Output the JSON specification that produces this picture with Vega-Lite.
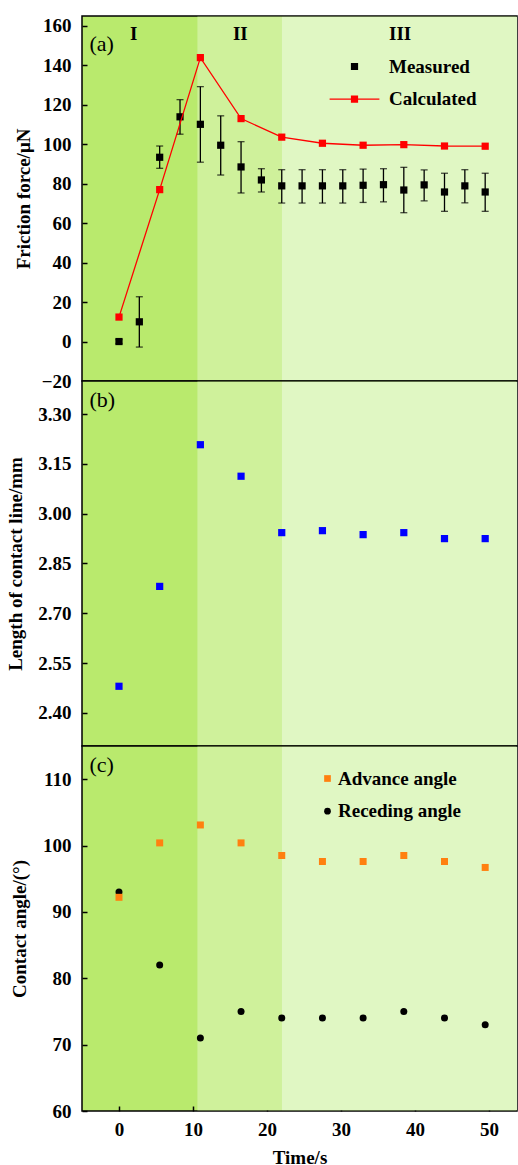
{
  "$schema": "https://vega.github.io/schema/vega-lite/v6.json",
  "background": "white",
  "padding": {"left": 6, "top": 15, "right": 0, "bottom": 0},
  "spacing": 0,
  "bounds": "flush",
  "datasets": {
    "bands": [
      {"region": "I", "start": -5, "end": 10.6, "tl": 2.0},
      {"region": "II", "start": 10.6, "end": 22, "tl": 16.4},
      {"region": "III", "start": 22, "end": 53.8, "tl": 38}
    ],
    "measured": [
      {"t": 0, "f": 0, "lo": -1, "hi": 1},
      {"t": 2.75, "f": 10, "lo": -2.8, "hi": 22.7},
      {"t": 5.5, "f": 93.4, "lo": 87.8, "hi": 99.1},
      {"t": 8.25, "f": 113.9, "lo": 105.1, "hi": 122.6},
      {"t": 11, "f": 110.1, "lo": 90.9, "hi": 129.2},
      {"t": 13.75, "f": 99.5, "lo": 84.4, "hi": 114.4},
      {"t": 16.5, "f": 88.5, "lo": 75.3, "hi": 101.3},
      {"t": 19.25, "f": 81.9, "lo": 75.8, "hi": 87.6},
      {"t": 22, "f": 78.9, "lo": 70.2, "hi": 87.1},
      {"t": 24.75, "f": 78.9, "lo": 70.2, "hi": 87.1},
      {"t": 27.5, "f": 78.9, "lo": 70.2, "hi": 87.1},
      {"t": 30.25, "f": 78.9, "lo": 70.2, "hi": 87.1},
      {"t": 33, "f": 79.2, "lo": 70.5, "hi": 87.4},
      {"t": 35.75, "f": 79.5, "lo": 70.8, "hi": 87.6},
      {"t": 38.5, "f": 76.8, "lo": 65.3, "hi": 88.3},
      {"t": 41.25, "f": 79.4, "lo": 71.3, "hi": 87.0},
      {"t": 44, "f": 75.8, "lo": 66.0, "hi": 85.3},
      {"t": 46.75, "f": 78.9, "lo": 70.3, "hi": 87.1},
      {"t": 49.5, "f": 75.8, "lo": 66.0, "hi": 85.3}
    ],
    "calculated": [
      {"t": 0, "f": 12.4},
      {"t": 5.5, "f": 77.0},
      {"t": 11, "f": 143.9},
      {"t": 16.5, "f": 113.0},
      {"t": 22, "f": 103.6},
      {"t": 27.5, "f": 100.5},
      {"t": 33, "f": 99.5},
      {"t": 38.5, "f": 99.8},
      {"t": 44, "f": 99.1},
      {"t": 49.5, "f": 99.0}
    ],
    "series": [{"series": "Measured"}, {"series": "Calculated"}],
    "contact": [
      {"t": 0, "len": 2.480},
      {"t": 5.5, "len": 2.781},
      {"t": 11, "len": 3.208},
      {"t": 16.5, "len": 3.113},
      {"t": 22, "len": 2.943},
      {"t": 27.5, "len": 2.949},
      {"t": 33, "len": 2.937},
      {"t": 38.5, "len": 2.943},
      {"t": 44, "len": 2.925},
      {"t": 49.5, "len": 2.925}
    ],
    "angles": [
      {"t": 0, "angle": 93, "type": "Receding angle"},
      {"t": 5.5, "angle": 82, "type": "Receding angle"},
      {"t": 11, "angle": 71, "type": "Receding angle"},
      {"t": 16.5, "angle": 75, "type": "Receding angle"},
      {"t": 22, "angle": 74, "type": "Receding angle"},
      {"t": 27.5, "angle": 74, "type": "Receding angle"},
      {"t": 33, "angle": 74, "type": "Receding angle"},
      {"t": 38.5, "angle": 75, "type": "Receding angle"},
      {"t": 44, "angle": 74, "type": "Receding angle"},
      {"t": 49.5, "angle": 73, "type": "Receding angle"},
      {"t": 0, "angle": 92.2, "type": "Advance angle"},
      {"t": 5.5, "angle": 100.4, "type": "Advance angle"},
      {"t": 11, "angle": 103.1, "type": "Advance angle"},
      {"t": 16.5, "angle": 100.4, "type": "Advance angle"},
      {"t": 22, "angle": 98.5, "type": "Advance angle"},
      {"t": 27.5, "angle": 97.6, "type": "Advance angle"},
      {"t": 33, "angle": 97.6, "type": "Advance angle"},
      {"t": 38.5, "angle": 98.5, "type": "Advance angle"},
      {"t": 44, "angle": 97.6, "type": "Advance angle"},
      {"t": 49.5, "angle": 96.7, "type": "Advance angle"}
    ]
  },
  "config": {
    "font": "Liberation Serif",
    "view": {"stroke": "black", "strokeWidth": 1.5, "fill": "#b9ea6d"},
    "axis": {
      "labelFont": "Liberation Serif", "labelFontSize": 19, "labelFontWeight": "bold", "labelColor": "black",
      "titleFont": "Liberation Serif", "titleFontSize": 19, "titleFontWeight": "bold", "titleColor": "black",
      "domain": false, "tickColor": "black", "tickWidth": 1.5, "tickSize": -5,
      "grid": false
    },
    "legend": {
      "labelFont": "Liberation Serif", "labelFontSize": 19, "labelFontWeight": "bold", "labelColor": "black",
      "padding": 0, "offset": 0, "symbolOpacity": 1
    }
  },
  "resolve": {"scale": {"y": "independent", "color": "independent", "fill": "independent", "stroke": "independent", "shape": "independent"}},
  "vconcat": [
    {
      "width": 435, "height": 365,
      "view": {"stroke": "black", "strokeWidth": 1.5, "fill": "#b9ea6d"},
      "layer": [
        {
          "data": {"name": "bands"},
          "transform": [{"filter": "datum.region != 'I'"}],
          "mark": {"type": "rect"},
          "encoding": {
            "x": {"field": "start", "type": "quantitative", "scale": {"domain": [-5, 53.8], "nice": false, "zero": false}, "axis": {"labels": false, "ticks": false, "title": null}},
            "x2": {"field": "end"},
            "y": {"datum": -19.62, "type": "quantitative"},
            "y2": {"datum": 164.62},
            "color": {"field": "region", "type": "nominal", "scale": {"domain": ["II", "III"], "range": ["#cff19b", "#e0f7c3"]}, "legend": null}
          }
        },
        {
          "data": {"name": "bands"},
          "mark": {"type": "text", "font": "Liberation Serif", "fontSize": 19, "fontWeight": "bold", "color": "black", "baseline": "middle", "align": "center"},
          "encoding": {
            "x": {"field": "tl", "type": "quantitative"},
            "y": {"datum": 156, "type": "quantitative"},
            "text": {"field": "region"}
          }
        },
        {
          "data": {"values": [{"p": "(a)"}]},
          "mark": {"type": "text", "font": "Liberation Serif", "fontSize": 22, "color": "black", "baseline": "middle", "align": "left"},
          "encoding": {
            "x": {"datum": -4, "type": "quantitative"},
            "y": {"datum": 151, "type": "quantitative"},
            "text": {"field": "p"}
          }
        },
        {
          "data": {"name": "measured"},
          "mark": {"type": "rule", "color": "black", "strokeWidth": 1.3},
          "encoding": {
            "x": {"field": "t", "type": "quantitative"},
            "y": {"field": "lo", "type": "quantitative"},
            "y2": {"field": "hi"}
          }
        },
        {
          "data": {"name": "measured"},
          "mark": {"type": "tick", "orient": "horizontal", "color": "black", "size": 7, "thickness": 1.3},
          "encoding": {
            "x": {"field": "t", "type": "quantitative"},
            "y": {"field": "lo", "type": "quantitative"}
          }
        },
        {
          "data": {"name": "measured"},
          "mark": {"type": "tick", "orient": "horizontal", "color": "black", "size": 7, "thickness": 1.3},
          "encoding": {
            "x": {"field": "t", "type": "quantitative"},
            "y": {"field": "hi", "type": "quantitative"}
          }
        },
        {
          "data": {"name": "measured"},
          "mark": {"type": "point", "shape": "square", "filled": true, "color": "black", "size": 52, "opacity": 1},
          "encoding": {
            "x": {"field": "t", "type": "quantitative"},
            "y": {"field": "f", "type": "quantitative", "scale": {"domain": [-20, 165], "nice": false, "zero": false}, "axis": {"values": [-20, 0, 20, 40, 60, 80, 100, 120, 140, 160], "title": "Friction force/μN", "labelPadding": 16, "titlePadding": 8}}
          }
        },
        {
          "data": {"name": "calculated"},
          "mark": {"type": "line", "color": "#ff0000", "strokeWidth": 1.3},
          "encoding": {
            "x": {"field": "t", "type": "quantitative"},
            "y": {"field": "f", "type": "quantitative"}
          }
        },
        {
          "data": {"name": "calculated"},
          "mark": {"type": "point", "shape": "square", "filled": true, "color": "#ff0000", "size": 52, "opacity": 1},
          "encoding": {
            "x": {"field": "t", "type": "quantitative"},
            "y": {"field": "f", "type": "quantitative"}
          }
        },
        {
          "data": {"name": "series"},
          "transform": [{"filter": "false"}],
          "mark": {"type": "point", "filled": true, "opacity": 1},
          "encoding": {
            "shape": {"field": "series", "type": "nominal", "scale": {"domain": ["Measured", "Calculated"], "range": ["square", "M-8.3,0H-1M1,0H8.3M-1,-1H1V1H-1Z"]},
              "legend": {"orient": "none", "legendX": 263, "legendY": 41, "title": null, "symbolSize": 36, "symbolStrokeWidth": 1.2, "symbolOpacity": 1, "labelOffset": 25, "rowPadding": 12.6}},
            "fill": {"field": "series", "type": "nominal", "scale": {"domain": ["Measured", "Calculated"], "range": ["black", "#ff0000"]},
              "legend": {"orient": "none", "legendX": 263, "legendY": 41, "title": null, "symbolSize": 36, "symbolStrokeWidth": 1.2, "symbolOpacity": 1, "labelOffset": 25, "rowPadding": 12.6}},
            "stroke": {"field": "series", "type": "nominal", "scale": {"domain": ["Measured", "Calculated"], "range": ["black", "#ff0000"]},
              "legend": {"orient": "none", "legendX": 263, "legendY": 41, "title": null, "symbolSize": 36, "symbolStrokeWidth": 1.2, "symbolOpacity": 1, "labelOffset": 25, "rowPadding": 12.6}}
          }
        }
      ]
    },
    {
      "width": 435, "height": 365,
      "view": {"stroke": "black", "strokeWidth": 1.5, "fill": "#b9ea6d"},
      "layer": [
        {
          "data": {"name": "bands"},
          "transform": [{"filter": "datum.region != 'I'"}],
          "mark": {"type": "rect"},
          "encoding": {
            "x": {"field": "start", "type": "quantitative", "scale": {"domain": [-5, 53.8], "nice": false, "zero": false}, "axis": {"labels": false, "ticks": false, "title": null}},
            "x2": {"field": "end"},
            "y": {"datum": 2.3023, "type": "quantitative"},
            "y2": {"datum": 3.3977},
            "color": {"field": "region", "type": "nominal", "scale": {"domain": ["II", "III"], "range": ["#cff19b", "#e0f7c3"]}, "legend": null}
          }
        },
        {
          "data": {"values": [{"p": "(b)"}]},
          "mark": {"type": "text", "font": "Liberation Serif", "fontSize": 22, "color": "black", "baseline": "middle", "align": "left"},
          "encoding": {
            "x": {"datum": -4, "type": "quantitative"},
            "y": {"datum": 3.3435, "type": "quantitative"},
            "text": {"field": "p"}
          }
        },
        {
          "data": {"name": "contact"},
          "mark": {"type": "point", "shape": "square", "filled": true, "color": "#0000ff", "size": 52, "opacity": 1},
          "encoding": {
            "x": {"field": "t", "type": "quantitative"},
            "y": {"field": "len", "type": "quantitative", "scale": {"domain": [2.30, 3.40], "nice": false, "zero": false}, "axis": {"values": [2.40, 2.55, 2.70, 2.85, 3.00, 3.15, 3.30], "format": ".2f", "title": "Length of contact line/mm", "labelPadding": 16, "titlePadding": 12}}
          }
        }
      ]
    },
    {
      "width": 435, "height": 365,
      "view": {"stroke": "black", "strokeWidth": 1.5, "fill": "#b9ea6d"},
      "layer": [
        {
          "data": {"name": "bands"},
          "transform": [{"filter": "datum.region != 'I'"}],
          "mark": {"type": "rect"},
          "encoding": {
            "x": {"field": "start", "type": "quantitative", "scale": {"domain": [-5, 53.8], "nice": false, "zero": false}, "axis": {"values": [0, 10, 20, 30, 40, 50], "title": "Time/s", "labelPadding": 14, "titlePadding": 9}},
            "x2": {"field": "end"},
            "y": {"datum": 60.11, "type": "quantitative"},
            "y2": {"datum": 114.89},
            "color": {"field": "region", "type": "nominal", "scale": {"domain": ["II", "III"], "range": ["#cff19b", "#e0f7c3"]}, "legend": null}
          }
        },
        {
          "data": {"values": [{"p": "(c)"}]},
          "mark": {"type": "text", "font": "Liberation Serif", "fontSize": 22, "color": "black", "baseline": "middle", "align": "left"},
          "encoding": {
            "x": {"datum": -4, "type": "quantitative"},
            "y": {"datum": 112.1, "type": "quantitative"},
            "text": {"field": "p"}
          }
        },
        {
          "data": {"name": "angles"},
          "mark": {"type": "point", "filled": true, "size": 49, "opacity": 1},
          "encoding": {
            "x": {"field": "t", "type": "quantitative"},
            "y": {"field": "angle", "type": "quantitative", "scale": {"domain": [60, 115], "nice": false, "zero": false}, "axis": {"values": [60, 70, 80, 90, 100, 110], "title": "Contact angle/(°)", "labelPadding": 16, "titlePadding": 13}},
            "shape": {"field": "type", "type": "nominal", "scale": {"domain": ["Advance angle", "Receding angle"], "range": ["square", "circle"]},
              "legend": {"orient": "none", "legendX": 236, "legendY": 23, "title": null, "symbolSize": 45, "symbolOpacity": 1, "labelOffset": 1, "rowPadding": 12.7}},
            "fill": {"field": "type", "type": "nominal", "scale": {"domain": ["Advance angle", "Receding angle"], "range": ["#ff8010", "black"]},
              "legend": {"orient": "none", "legendX": 236, "legendY": 23, "title": null, "symbolSize": 45, "symbolOpacity": 1, "labelOffset": 1, "rowPadding": 12.7}}
          }
        }
      ]
    }
  ]
}
